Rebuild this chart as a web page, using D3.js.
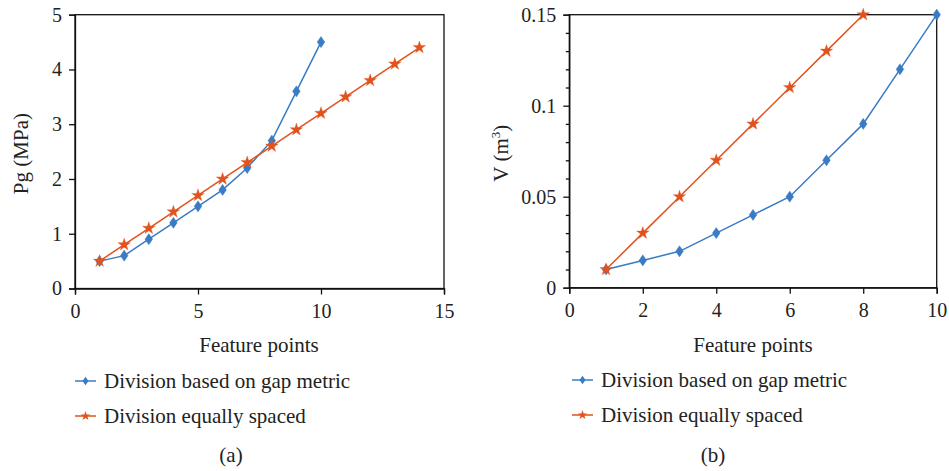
<!DOCTYPE html>
<html>
<head>
<meta charset="utf-8">
<script src="https://cdn.jsdelivr.net/npm/d3@7"></script>
<style>
	body { margin: 0; background: #fff; }
	svg text { font-family: "Liberation Serif", "DejaVu Serif", serif; fill: #222; }
</style>
</head>
<body>
<svg id="chart" width="949" height="471"></svg>
<script>
/*=================================
	DATA
**===============================*/

// panel (a) : Pg (MPa)
var pgGapX = [1, 2, 3, 4, 5, 6, 7, 8, 9, 10];
var pgGapY = [0.5, 0.6, 0.9, 1.2, 1.5, 1.8, 2.2, 2.7, 3.6, 4.5];
var pgEqX = [1, 2, 3, 4, 5, 6, 7, 8, 9, 10, 11, 12, 13, 14];
var pgEqY = [0.5, 0.8, 1.1, 1.4, 1.7, 2.0, 2.3, 2.6, 2.9, 3.2, 3.5, 3.8, 4.1, 4.4];
var pgXTicks = [0, 5, 10, 15];
var pgYTicks = [0, 1, 2, 3, 4, 5];

// panel (b) : V (m3)
var vGapX = [1, 2, 3, 4, 5, 6, 7, 8, 9, 10];
var vGapY = [0.01, 0.015, 0.02, 0.03, 0.04, 0.05, 0.07, 0.09, 0.12, 0.15];
var vEqX = [1, 2, 3, 4, 5, 6, 7, 8];
var vEqY = [0.01, 0.03, 0.05, 0.07, 0.09, 0.11, 0.13, 0.15];
var vXTicks = [0, 2, 4, 6, 8, 10];
var vYTicks = [0, 0.05, 0.1, 0.15];
var vYMinor = [0.01, 0.02, 0.03, 0.04, 0.06, 0.07, 0.08, 0.09, 0.11, 0.12, 0.13, 0.14];

var seriesNames = ["Division based on gap metric", "Division equally spaced"];

/*=================================
	STYLE
**===============================*/

var blue = "#3a7cc3",
	red = "#e2521e",
	fontSize = 21,
	tickFont = 20;

var svg = d3.select("#chart");

function zip(xs, ys) {
	return xs.map(function (x, i) { return [x, ys[i]]; });
}

// tall diamond like the original marker
var diamond = {
	draw: function (ctx, size) {
		var w = Math.sqrt(size / 2.4), h = w * 1.45;
		ctx.moveTo(0, -h);
		ctx.lineTo(w, 0);
		ctx.lineTo(0, h);
		ctx.lineTo(-w, 0);
		ctx.closePath();
	}
};

/*=================================
	ONE PANEL
**===============================*/

function drawPanel(o) {
	var x = d3.scaleLinear().domain(o.xDomain).range([o.left, o.right]);
	var y = d3.scaleLinear().domain(o.yDomain).range([o.bottom, o.top]);
	var g = svg.append("g");

	// frame
	g.append("rect")
		.attr("x", o.left).attr("y", o.top)
		.attr("width", o.right - o.left).attr("height", o.bottom - o.top)
		.attr("fill", "none").attr("stroke", "#111").attr("stroke-width", 1.3);

	g.append("g")
		.attr("transform", "translate(0," + o.bottom + ")")
		.call(d3.axisBottom(x).tickValues(o.xTicks).tickSize(6).tickPadding(9).tickFormat(d3.format("")));
	g.append("g")
		.attr("transform", "translate(" + o.left + ",0)")
		.call(d3.axisLeft(y).tickValues(o.yTicks).tickSize(6).tickPadding(7).tickFormat(function (d) { return +d.toFixed(2); }));

	if (o.yMinor) {
		g.append("g")
			.attr("transform", "translate(" + o.left + ",0)")
			.call(d3.axisLeft(y).tickValues(o.yMinor).tickSize(3.5).tickFormat(""))
			.call(function (s) { s.select(".domain").remove(); });
	}

	g.selectAll(".domain").attr("stroke", "#111").attr("stroke-width", 1.3);
	g.selectAll(".tick line").attr("stroke", "#111").attr("stroke-width", 1.3);
	g.selectAll(".tick text").style("font-size", tickFont + "px").attr("fill", "#222")
		.style("font-family", "'Liberation Serif', serif");

	// y label
	var yl = g.append("text")
		.attr("transform", "translate(" + o.yLabelX + "," + ((o.top + o.bottom) / 2 + 2) + ") rotate(-90)")
		.attr("text-anchor", "middle")
		.style("font-size", fontSize + "px");
	o.yLabel(yl);

	// x label
	g.append("text")
		.attr("x", o.xLabelX).attr("y", 345).attr("dy", "0.35em")
		.attr("text-anchor", "middle")
		.style("font-size", fontSize + "px")
		.text("Feature points");

	// lines + markers
	var line = d3.line().x(function (d) { return x(d[0]); }).y(function (d) { return y(d[1]); });
	var sets = [
		{ pts: zip(o.gapX, o.gapY), color: blue, sym: diamond, size: 36 },
		{ pts: zip(o.eqX, o.eqY), color: red, sym: d3.symbolStar, size: 48 }
	];
	sets.forEach(function (s) {
		g.append("path").datum(s.pts)
			.attr("d", line).attr("fill", "none")
			.attr("stroke", s.color).attr("stroke-width", 1.5);
	});
	sets.forEach(function (s) {
		g.selectAll(null).data(s.pts).enter().append("path")
			.attr("transform", function (d) { return "translate(" + x(d[0]) + "," + y(d[1]) + ")"; })
			.attr("d", d3.symbol().type(s.sym).size(s.size))
			.attr("fill", s.color).attr("stroke", s.color).attr("stroke-opacity", 0.35).attr("stroke-width", 1);
	});

	// legend
	sets.forEach(function (s, i) {
		var ly = o.legendY[i];
		g.append("line")
			.attr("x1", o.legendX).attr("x2", o.legendX + 21)
			.attr("y1", ly).attr("y2", ly)
			.attr("stroke", s.color).attr("stroke-width", 1.5);
		g.append("path")
			.attr("transform", "translate(" + (o.legendX + 10.5) + "," + ly + ")")
			.attr("d", d3.symbol().type(s.sym).size(s.size * 0.6))
			.attr("fill", s.color);
		g.append("text")
			.attr("x", o.legendX + 29).attr("y", ly).attr("dy", "0.35em")
			.style("font-size", fontSize + "px")
			.text(seriesNames[i]);
	});

	// panel tag
	g.append("text")
		.attr("x", o.tagX).attr("y", 455).attr("dy", "0.35em")
		.attr("text-anchor", "middle")
		.style("font-size", fontSize + "px")
		.text(o.tag);
}

/*=================================
	DRAW BOTH
**===============================*/

drawPanel({
	left: 75, right: 444, top: 14.7, bottom: 288.5,
	xDomain: [0, 15], yDomain: [0, 5],
	xTicks: pgXTicks, yTicks: pgYTicks,
	gapX: pgGapX, gapY: pgGapY, eqX: pgEqX, eqY: pgEqY,
	yLabelX: 28, xLabelX: 259,
	yLabel: function (t) { t.text("Pg (MPa)"); },
	legendX: 75, legendY: [381, 416],
	tagX: 231, tag: "(a)"
});

drawPanel({
	left: 569.3, right: 936.7, top: 14.7, bottom: 287.7,
	xDomain: [0, 10], yDomain: [0, 0.15],
	xTicks: vXTicks, yTicks: vYTicks, yMinor: vYMinor,
	gapX: vGapX, gapY: vGapY, eqX: vEqX, eqY: vEqY,
	yLabelX: 508, xLabelX: 753,
	yLabel: function (t) {
		t.append("tspan").text("V (m");
		t.append("tspan").attr("dy", -8).style("font-size", "13px").text("3");
		t.append("tspan").attr("dy", 8).text(")");
	},
	legendX: 572, legendY: [380, 415],
	tagX: 713, tag: "(b)"
});
</script>
</body>
</html>
